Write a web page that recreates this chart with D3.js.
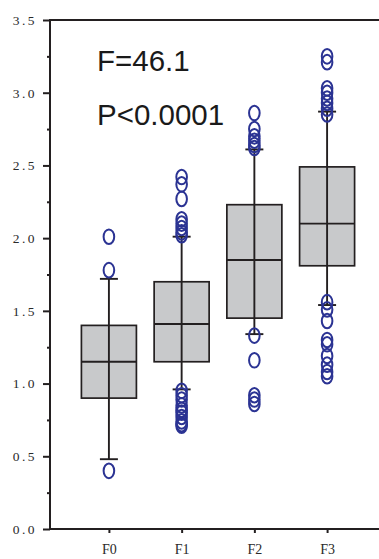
<!DOCTYPE html>
<html>
<head>
<meta charset="UTF-8">
<script src="https://cdn.jsdelivr.net/npm/d3@7"></script>
<style>
  body { margin:0; background:#fff; }
  svg { display:block; }
  .tick text { font-family: "Liberation Serif", "DejaVu Serif", serif; fill:#2a2a2a; }
</style>
</head>
<body>
<svg id="chart" width="379" height="559"></svg>
<script>
// data
const groups = ["F0", "F1", "F2", "F3"];
const q1 = [0.90, 1.15, 1.45, 1.81];
const median = [1.15, 1.41, 1.85, 2.10];
const q3 = [1.40, 1.70, 2.23, 2.49];
const whiskerLow = [0.48, 0.96, 1.34, 1.54];
const whiskerHigh = [1.72, 2.01, 2.61, 2.87];
const outliers = [
  [2.01, 1.78, 0.40],
  [2.42, 2.37, 2.27, 2.13, 2.10, 2.07, 2.04, 2.02,
   0.95, 0.92, 0.89, 0.85, 0.82, 0.80, 0.77, 0.74, 0.72, 0.71],
  [2.86, 2.75, 2.70, 2.67, 2.64, 2.62, 1.33, 1.16, 0.92, 0.89, 0.86],
  [3.25, 3.21, 3.03, 3.00, 2.96, 2.93, 2.89, 2.85,
   1.56, 1.51, 1.43, 1.30, 1.27, 1.19, 1.13, 1.08, 1.05]
];
const yTicks = [0, 0.5, 1.0, 1.5, 2.0, 2.5, 3.0, 3.5];
const yMinor = [0.25, 0.75, 1.25, 1.75, 2.25, 2.75, 3.25];
const notes = ["F=46.1", "P<0.0001"];

const plotLeft = 50, plotTop = 20, plotBottom = 529, plotRight = 386;
const ink = "#231f20";

const svg = d3.select("#chart");

const y = d3.scaleLinear().domain([0, 3.5]).range([plotBottom, plotTop]);
const x = d3.scalePoint().domain(groups).range([plotLeft, plotRight]).padding(0.81);

// frame
svg.append("rect")
  .attr("x", plotLeft).attr("y", plotTop)
  .attr("width", plotRight - plotLeft).attr("height", plotBottom - plotTop)
  .attr("fill", "none").attr("stroke", ink).attr("stroke-width", 2);

// y axis
const yAxis = svg.append("g")
  .attr("transform", `translate(${plotLeft},0)`)
  .call(d3.axisLeft(y).tickValues(yTicks).tickSize(7).tickPadding(6)
    .tickFormat(d3.format(".1f")));
yAxis.select(".domain").remove();
yAxis.selectAll(".tick line").attr("stroke", ink).attr("stroke-width", 2);
yAxis.selectAll(".tick text").attr("font-size", 13.5).style("letter-spacing", "2.5px");

const yMinorAxis = svg.append("g")
  .attr("transform", `translate(${plotLeft},0)`)
  .call(d3.axisLeft(y).tickValues(yMinor).tickSize(3).tickFormat(""));
yMinorAxis.select(".domain").remove();
yMinorAxis.selectAll(".tick line").attr("stroke", ink).attr("stroke-width", 2);

// x axis
const xAxis = svg.append("g")
  .attr("transform", `translate(0,${plotBottom})`)
  .call(d3.axisBottom(x).tickSize(4).tickPadding(11));
xAxis.select(".domain").remove();
xAxis.selectAll(".tick line").attr("stroke", ink).attr("stroke-width", 2);
xAxis.selectAll(".tick text").attr("font-size", 14);

// boxes
const boxW = 55, capW = 18;
const g = svg.selectAll(".box").data(groups).join("g").attr("class", "box");

g.append("rect")
  .attr("x", d => x(d) - boxW / 2)
  .attr("y", (d, i) => y(q3[i]))
  .attr("width", boxW)
  .attr("height", (d, i) => y(q1[i]) - y(q3[i]))
  .attr("fill", "#c8c9cb").attr("stroke", ink).attr("stroke-width", 1.7);

g.append("line")
  .attr("x1", d => x(d)).attr("x2", d => x(d))
  .attr("y1", (d, i) => y(whiskerLow[i])).attr("y2", (d, i) => y(whiskerHigh[i]))
  .attr("stroke", ink).attr("stroke-width", 1.9);

g.append("line")
  .attr("x1", d => x(d) - boxW / 2).attr("x2", d => x(d) + boxW / 2)
  .attr("y1", (d, i) => y(median[i])).attr("y2", (d, i) => y(median[i]))
  .attr("stroke", ink).attr("stroke-width", 1.9);

[whiskerLow, whiskerHigh].forEach(arr => {
  g.append("line")
    .attr("x1", d => x(d) - capW / 2).attr("x2", d => x(d) + capW / 2)
    .attr("y1", (d, i) => y(arr[i])).attr("y2", (d, i) => y(arr[i]))
    .attr("stroke", ink).attr("stroke-width", 1.9);
});

// outliers
g.each(function(d, i) {
  d3.select(this).selectAll("ellipse").data(outliers[i]).join("ellipse")
    .attr("cx", x(d)).attr("cy", v => y(v))
    .attr("rx", 5.3).attr("ry", 7.3)
    .attr("fill", "none").attr("stroke", "#2b3393").attr("stroke-width", 2);
});

// statistics text
svg.selectAll(".note").data(notes).join("text")
  .attr("class", "note")
  .attr("x", 97)
  .attr("y", (d, i) => 71 + i * 54)
  .attr("font-family", "Liberation Sans, Arial, sans-serif")
  .attr("font-size", 29.5)
  .attr("fill", "#1a1a1a")
  .text(d => d);
</script>
</body>
</html>
